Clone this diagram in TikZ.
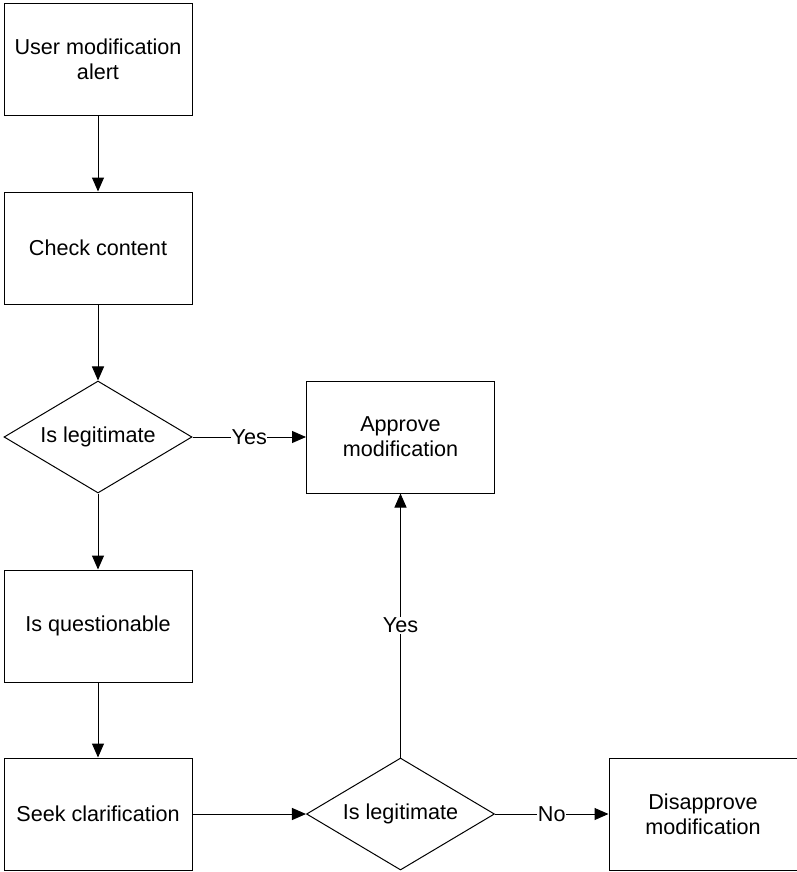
\documentclass[tikz,border=0pt]{standalone}
\usepackage{fontspec}
\setmainfont{Liberation Sans}
\usetikzlibrary{shapes.geometric,arrows.meta}
\begin{document}
\begin{tikzpicture}[x=1pt,y=-1pt,
  every node/.style={font=\fontsize{21.6}{25}\selectfont},
  stepbox/.style={draw, line width=1pt, rectangle, minimum width=188pt, minimum height=112pt, inner sep=0pt, align=center},
  decision/.style={draw, line width=1pt, diamond, shape aspect=1.68, minimum width=188pt, minimum height=112pt, inner sep=0pt, align=center},
  flow/.style={line width=1pt, -{Triangle[length=14pt,width=12pt]}},
  lbl/.style={fill=white, inner sep=0.5pt}]
  \useasboundingbox (0,0) rectangle (797,872);
  \node[stepbox] (alert) at (98,59.5) {User modification\\alert};
  \node[stepbox] (check) at (98,248) {Check content};
  \node[decision] (legit1) at (98,437) {Is legitimate};
  \node[stepbox] (approve) at (400.5,437) {Approve\\modification};
  \node[stepbox] (quest) at (98,626) {Is questionable};
  \node[stepbox] (seek) at (98,814) {Seek clarification};
  \node[decision] (legit2) at (400.5,814) {Is legitimate};
  \node[stepbox] (disapprove) at (703,814) {Disapprove\\modification};

  \draw[flow] (alert) -- (check);
  \draw[flow] (check) -- (legit1);
  \draw[flow] (legit1) -- node[lbl] {Yes} (approve);
  \draw[flow] (legit1) -- (quest);
  \draw[flow] (quest) -- (seek);
  \draw[flow] (seek) -- (legit2);
  \draw[flow] (legit2) -- node[lbl] {Yes} (approve);
  \draw[flow] (legit2) -- node[lbl] {No} (disapprove);
\end{tikzpicture}
\end{document}
